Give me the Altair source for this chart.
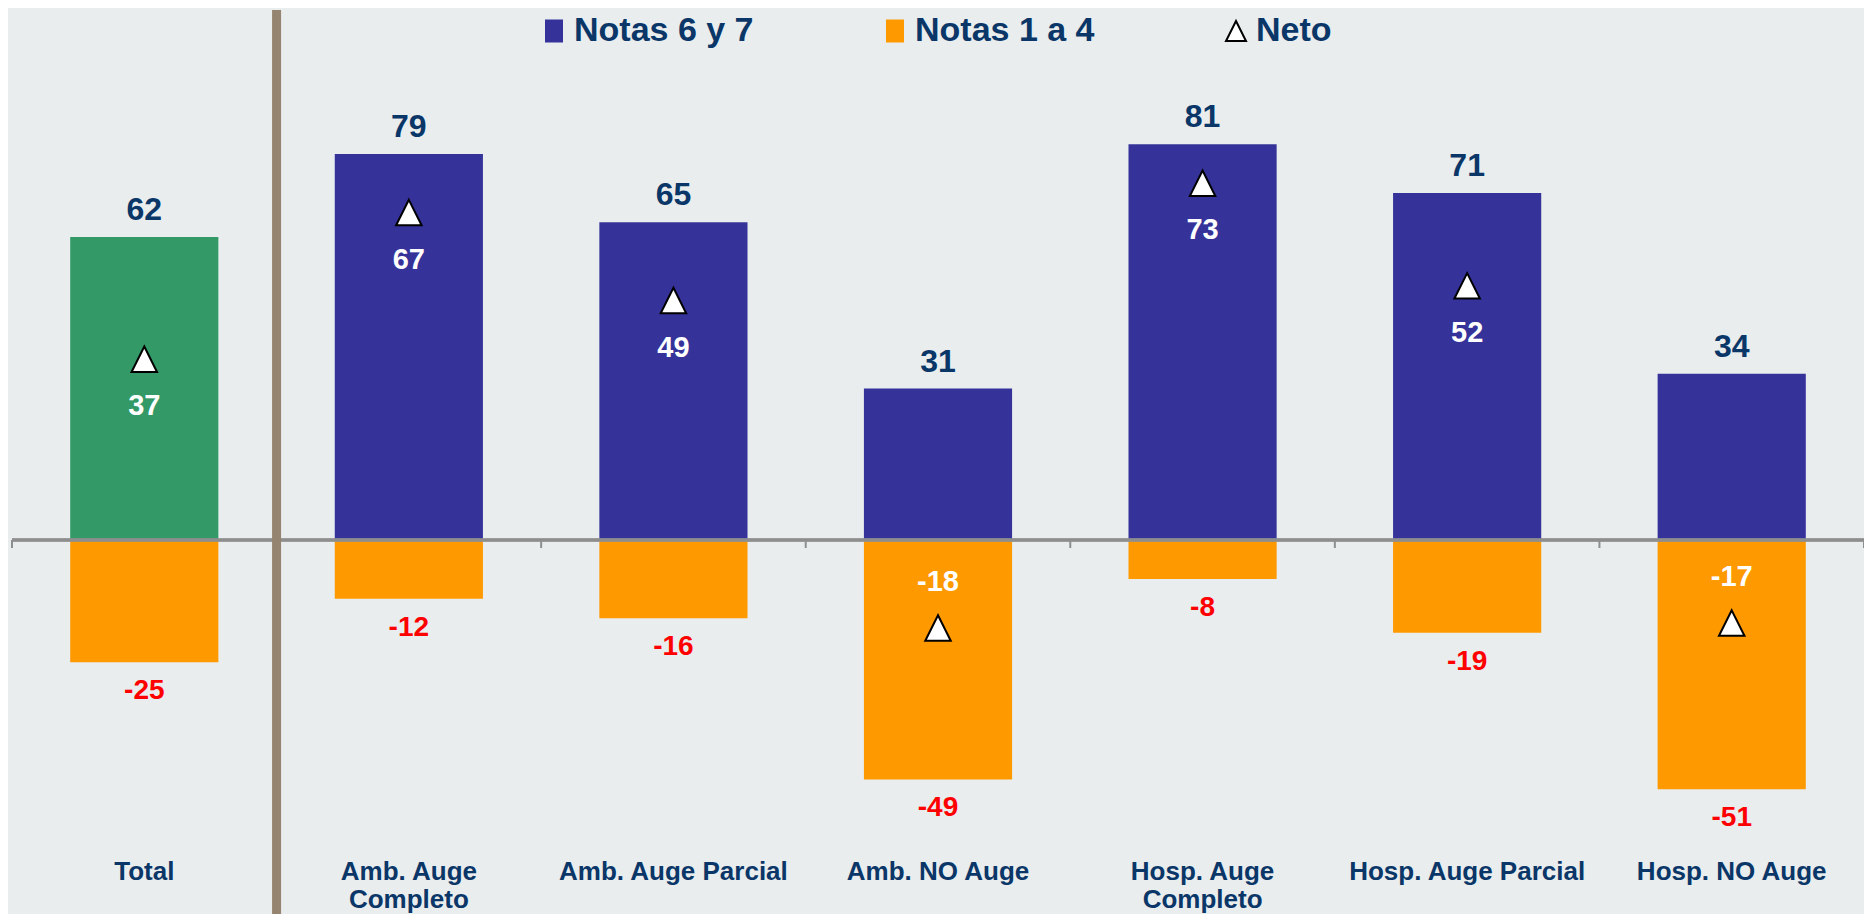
import altair as alt
import pandas as pd

# ---------------- data ----------------
categorias = ["Total", "Amb. Auge\nCompleto", "Amb. Auge Parcial", "Amb. NO Auge",
              "Hosp. Auge\nCompleto", "Hosp. Auge Parcial", "Hosp. NO Auge"]
notas_6_7 = [62, 79, 65, 31, 81, 71, 34]
notas_1_4 = [-25, -12, -16, -49, -8, -19, -51]
neto = [37, 67, 49, -18, 73, 52, -17]
series = ["Notas 6 y 7", "Notas 1 a 4", "Neto"]

# ---------------- style / layout ----------------
FONT = "Liberation Sans"
NAVY = "#0A3668"
BLUE = "#35339A"
ORANGE = "#FF9900"
GREEN = "#339966"
RED = "#FF0000"
BG = "#E9EDEE"
AXIS_GREY = "#8E8E8E"
SEP = "#958470"

W = 1852
H = 832
ZERO_PX = 522
PX_PER_UNIT = 4.887
YMAX = ZERO_PX / PX_PER_UNIT
YMIN = -(H - ZERO_PX) / PX_PER_UNIT
TICK_LEN = 8 / PX_PER_UNIT

RECT = "M-0.8,-1.05H0.8V1.05H-0.8Z"
TRI = "M0,-1L1,1L-1,1Z"

# ---------------- tables ----------------
pos_df = pd.DataFrame({
    "cat": categorias,
    "valor": notas_6_7,
    "clave": ["Total" if c == "Total" else "Notas 6 y 7" for c in categorias],
})
neg_df = pd.DataFrame({"cat": categorias, "valor": notas_1_4, "clave": "Notas 1 a 4"})
bars_df = pd.concat([pos_df, neg_df], ignore_index=True)
neto_df = pd.DataFrame({"cat": categorias, "neto": neto, "serie": "Neto"})
cats_df = pd.DataFrame({"cat": categorias})

x_scale = alt.Scale(paddingInner=0, paddingOuter=0)


def X(**kw):
    return alt.X("cat:N", sort=categorias, scale=x_scale, **kw)


y_scale = alt.Scale(domain=[YMIN, YMAX], nice=False, zero=False)

bars = alt.Chart(bars_df).mark_bar(width=alt.RelativeBandSize(0.56)).encode(
    x=X(axis=alt.Axis(title=None, domain=False, ticks=False, tickSize=0, labelAngle=0,
                      labelFont=FONT, labelFontSize=26, labelFontWeight="bold",
                      labelColor=NAVY, labelPadding=8, labelLineHeight=28, labelLimit=500,
                      labelExpr="split(datum.label, '\\n')")),
    y=alt.Y("valor:Q", scale=y_scale, axis=None),
    y2=alt.datum(0),
    color=alt.Color("clave:N", scale=alt.Scale(domain=["Notas 6 y 7", "Notas 1 a 4", "Total"],
                                               range=[BLUE, ORANGE, GREEN]), legend=None),
)

zero_line = alt.Chart(cats_df).mark_rule(color=AXIS_GREY, strokeWidth=2.5).encode(
    y=alt.datum(0)
)

ticks = alt.Chart(cats_df).mark_rule(color=AXIS_GREY, strokeWidth=2).encode(
    x=X(bandPosition=0), y=alt.datum(0), y2=alt.datum(-TICK_LEN)
)
end_tick = alt.Chart(cats_df.tail(1)).mark_rule(color=AXIS_GREY, strokeWidth=2).encode(
    x=X(bandPosition=1), y=alt.datum(0), y2=alt.datum(-TICK_LEN)
)

separator = alt.Chart(cats_df.iloc[[1]]).mark_rule(color=SEP, strokeWidth=9).encode(
    x=X(bandPosition=0), y=alt.value(-8), y2=alt.value(H + 66)
)

top_labels = alt.Chart(pos_df).transform_calculate(lbl="'' + datum.valor").mark_text(
    font=FONT, fontSize=32, fontWeight="bold", color=NAVY, baseline="alphabetic", dy=-17
).encode(x=X(), y="valor:Q", text="lbl:N")

neg_labels = alt.Chart(neg_df).transform_calculate(lbl="'' + datum.valor").mark_text(
    font=FONT, fontSize=28, fontWeight="bold", color=RED, baseline="alphabetic", dy=37
).encode(x=X(), y="valor:Q", text="lbl:N")

leg = alt.Legend(title=None, orient="none", legendX=525, legendY=-4, direction="horizontal",
                 symbolSize=400, symbolStrokeWidth=2, labelFont=FONT, labelFontSize=34,
                 labelFontWeight="bold", labelColor=NAVY, labelLimit=500, labelOffset=3,
                 columnPadding=124, padding=0, symbolOpacity=1)

triangles = alt.Chart(neto_df).mark_point(filled=True, size=650, strokeWidth=2, opacity=1).encode(
    x=X(),
    y="neto:Q",
    fill=alt.Fill("serie:N", scale=alt.Scale(domain=series, range=[BLUE, ORANGE, "#FFFFFF"]), legend=leg),
    stroke=alt.Stroke("serie:N", scale=alt.Scale(domain=series, range=[BLUE, ORANGE, "#000000"]), legend=leg),
    shape=alt.Shape("serie:N", scale=alt.Scale(domain=series, range=[RECT, RECT, TRI]), legend=leg),
)

neto_pos = alt.Chart(neto_df).transform_filter("datum.neto >= 0").transform_calculate(
    lbl="'' + datum.neto"
).mark_text(
    font=FONT, fontSize=29, fontWeight="bold", color="white", baseline="alphabetic", dy=56
).encode(x=X(), y="neto:Q", text="lbl:N")

neto_neg = alt.Chart(neto_df).transform_filter("datum.neto < 0").transform_calculate(
    lbl="'' + datum.neto"
).mark_text(
    font=FONT, fontSize=29, fontWeight="bold", color="white", baseline="alphabetic", dy=-37
).encode(x=X(), y="neto:Q", text="lbl:N")

chart = alt.layer(
    bars, zero_line, ticks, end_tick, separator, top_labels, neg_labels,
    triangles, neto_pos, neto_neg
).properties(
    width=W, height=H,
    padding={"left": 4, "top": 10, "right": 0, "bottom": 64},
    autosize=alt.AutoSizeParams(type="none"),
    background=BG,
).configure_view(stroke=None)

chart.save("out.html", embed_options={"renderer": "svg", "actions": False})
